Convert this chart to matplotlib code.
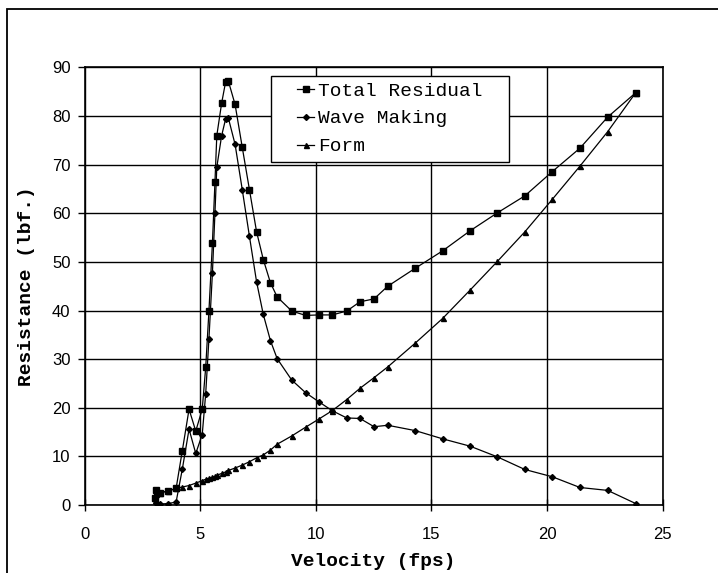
import numpy as np
import matplotlib.pyplot as plt
from matplotlib.patches import Rectangle

'''data read off the chart'''
velocity = [3.05, 3.07, 3.27, 3.62, 3.96, 4.23, 4.52, 4.81, 5.09, 5.24,
            5.38, 5.53, 5.64, 5.72, 5.93, 6.10, 6.22, 6.51, 6.82, 7.13,
            7.44, 7.73, 8.04, 8.33, 8.96, 9.56, 10.14, 10.71, 11.34, 11.91,
            12.52, 13.11, 14.30, 15.49, 16.67, 17.85, 19.04, 20.23, 21.42, 22.62,
            23.83]

total_residual = [1.5, 3.0, 2.5, 2.9, 3.4, 11.2, 19.7, 15.2, 19.7, 28.3,
                  39.9, 53.8, 66.4, 76.0, 82.7, 87.0, 87.2, 82.4, 73.6, 64.9,
                  56.2, 50.5, 45.7, 42.8, 39.9, 39.0, 39.1, 39.1, 39.9, 41.8,
                  42.4, 45.0, 48.7, 52.3, 56.4, 60.1, 63.6, 68.6, 73.4, 79.8,
                  84.8]

wave_making = [1.0, 0.5, 0.2, 0.3, 0.6, 7.4, 15.6, 10.6, 14.5, 22.9,
               34.2, 47.7, 60.1, 69.5, 76.0, 79.4, 79.6, 74.2, 64.9, 55.3,
               45.9, 39.2, 33.8, 30.1, 25.7, 23.1, 21.2, 19.4, 17.9, 17.8,
               16.1, 16.4, 15.3, 13.6, 12.1, 9.9, 7.3, 5.8, 3.6, 3.0,
               0.3]

form = [2.2, 2.3, 2.5, 2.9, 3.4, 3.7, 4.0, 4.5, 5.0, 5.3,
        5.5, 5.7, 5.9, 6.1, 6.5, 6.8, 7.1, 7.6, 8.2, 8.9,
        9.7, 10.3, 11.3, 12.5, 14.2, 16.0, 17.7, 19.4, 21.7, 24.0,
        26.2, 28.4, 33.3, 38.4, 44.2, 50.1, 56.2, 62.9, 69.7, 76.8,
        84.8]

x_ticks = [0, 5, 10, 15, 20, 25]
y_ticks = [0, 10, 20, 30, 40, 50, 60, 70, 80, 90]

'''plotting'''
mono = 'Liberation Mono'

fig = plt.figure(figsize=(7.18, 5.73), dpi=100)
ax = fig.add_axes([0.1177, 0.1187, 0.8053, 0.7635])

ax.plot(velocity, total_residual, color='black', lw=0.9, marker='s', ms=4.2, label='Total Residual')
ax.plot(velocity, wave_making, color='black', lw=0.9, marker='D', ms=3.0, label='Wave Making')
ax.plot(velocity, form, color='black', lw=0.9, marker='^', ms=3.6, label='Form')

ax.set_xlim(0, 25)
ax.set_ylim(0, 90)
ax.set_xticks(x_ticks)
ax.set_yticks(y_ticks)
ax.grid(True, color='black', lw=1.0)
ax.set_axisbelow(True)
for s in ax.spines.values():
    s.set_linewidth(1.2)
ax.tick_params(axis='x', direction='inout', length=9, width=1, labelsize=12, pad=11)
ax.tick_params(axis='y', direction='out', length=5, width=1, labelsize=12, pad=5)
for lab in ax.get_xticklabels() + ax.get_yticklabels():
    lab.set_family('Liberation Sans')

ax.set_xlabel('Velocity (fps)', family=mono, weight='bold', fontsize=14, labelpad=8)
ax.set_ylabel('Resistance (lbf.)', family=mono, weight='bold', fontsize=14, labelpad=12)

'''legend box drawn separately (wide side padding)'''
ax.add_patch(Rectangle((0.3226, 0.784), 0.4116, 0.1966, transform=ax.transAxes,
                       facecolor='white', edgecolor='black', lw=1.0, zorder=4))
leg = ax.legend(loc='upper left', bbox_to_anchor=(0.3675, 0.967), borderaxespad=0,
                prop={'family': mono, 'size': 14}, frameon=False, handlelength=0.9,
                handletextpad=0.2, labelspacing=0.53, borderpad=0)
leg.set_zorder(5)

'''outer frame'''
fig.add_artist(Rectangle((7 / 718, -0.5), 2, 0.5 + 1 - 9 / 573, transform=fig.transFigure,
                         fill=False, edgecolor='black', lw=1.3))

plt.savefig('out.png', dpi=100)
